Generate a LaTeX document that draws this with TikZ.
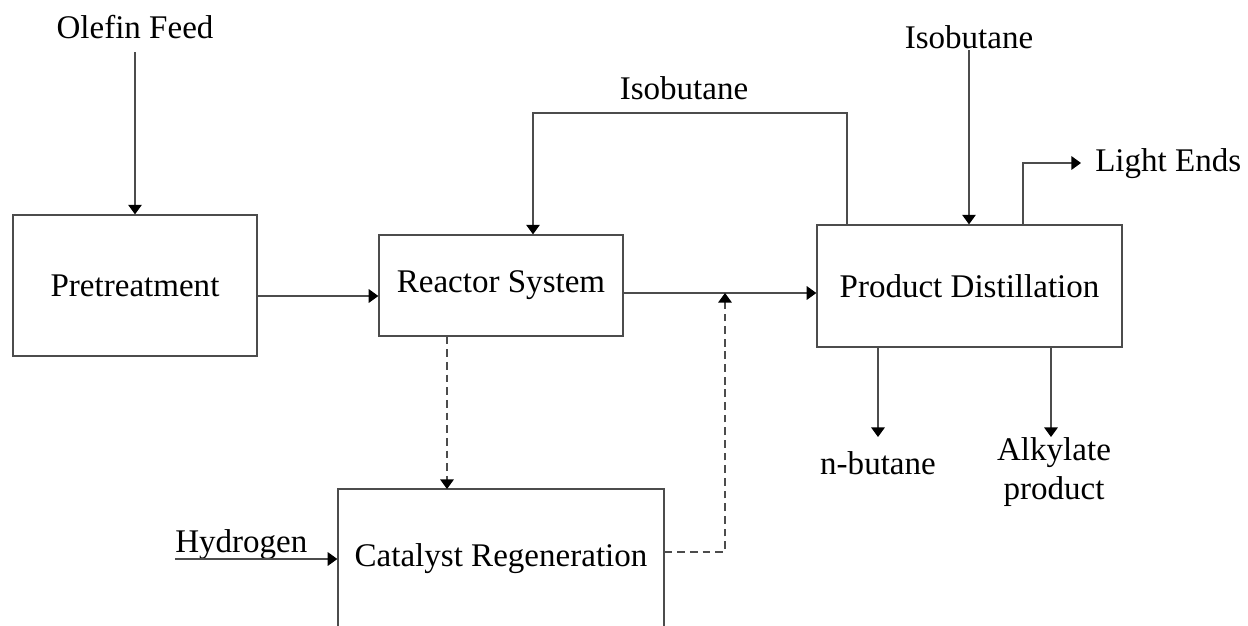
\documentclass[tikz,border=0pt]{standalone}
\usepackage{fontspec}
\setmainfont{Liberation Serif}
\usetikzlibrary{arrows.meta,calc}

\tikzset{
  unit/.style={draw=black!70, line width=0.9pt, inner sep=0pt, font=\fontsize{23.5}{28}\selectfont},
  lbl/.style={inner sep=0pt, align=center, font=\fontsize{23.5}{28}\selectfont},
  flow/.style={draw=black!70, line width=0.9pt, -{Triangle[length=0.24cm,width=0.34cm,black]}},
  backflow/.style={flow, dash pattern=on 5.5pt off 3.5pt}
}

\begin{document}
\begin{tikzpicture}[x=0.025cm,y=-0.025cm]
\useasboundingbox (0,0) rectangle (1248,625);
\clip (0,0) rectangle (1248,625);

% units
\node[unit, minimum width=6.1cm, minimum height=3.525cm] (pre) at (135,285.5) {Pretreatment};
\node[unit, minimum width=6.1cm, minimum height=2.525cm] (reac) at (501,285.5) {Reactor System};
\node[unit, minimum width=7.625cm, minimum height=3.05cm] (dist) at (969.5,286) {Product Distillation};
\node[unit, minimum width=8.15cm, minimum height=3.5cm] (cat) at (501,559) {Catalyst Regeneration};

% labels
\node[lbl] (olefin) at (135,27) {Olefin Feed};
\node[lbl] (isorec) at (684,88) {Isobutane};
\node[lbl] (isofeed) at (969,37) {Isobutane};
\node[lbl, anchor=west] (light) at (1095,164) {Light Ends};
\node[lbl] (nbut) at (878,463) {n-butane};
\node[lbl] (alky) at (1054,472) {Alkylate\\product};
\node[lbl, anchor=base west] (hydro) at (175,552) {Hydrogen};

% free ends and bends
\coordinate (olefin in) at (135,52);
\coordinate (feed) at (379,296);
\coordinate (loopR) at (847,113);
\coordinate (loopL) at (533,113);
\coordinate (iso in) at (969,50);
\coordinate (lebend) at (1023,163);
\coordinate (leout) at (1081,163);
\coordinate (nbout) at (878,437);
\coordinate (alout) at (1051,437);
\coordinate (h2in) at (175,559);
\coordinate (regin) at (447,489);
\coordinate (ret) at (725,552);
\coordinate (mix) at (725,293);

% streams
\draw[flow] (olefin in) -- (pre.north);
\draw[flow] (pre.east |- feed) -- (reac.west |- feed);
\draw[flow] (reac.east |- mix) -- (dist.west |- mix);
\draw[flow] (dist.north -| loopR) -- (loopR) -- (loopL) -- (reac.north -| loopL);
\draw[flow] (iso in) -- (dist.north -| iso in);
\draw[flow] (dist.north -| lebend) -- (lebend) -- (leout);
\draw[flow] (dist.south -| nbout) -- (nbout);
\draw[flow] (dist.south -| alout) -- (alout);
\draw[flow] (h2in) -- (cat.west |- h2in);
\draw[backflow] (reac.south -| regin) -- (regin);
\draw[backflow] (cat.east |- ret) -- (ret) -- (mix);
\end{tikzpicture}
\end{document}
